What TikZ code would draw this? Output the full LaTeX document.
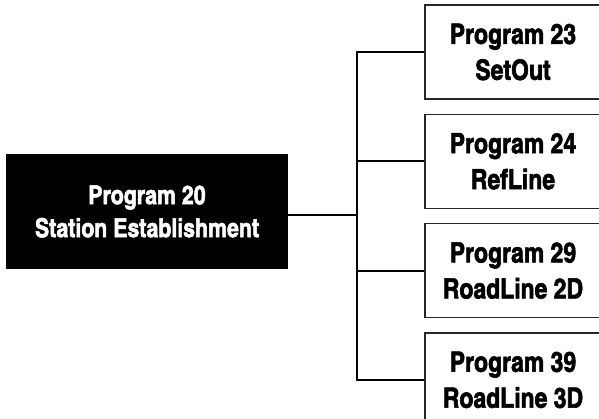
\documentclass[tikz,border=0pt]{standalone}
\usepackage{fontspec}
\setmainfont{texgyreheroscn}[Extension=.otf,UprightFont=*-regular,BoldFont=*-bold,BoldFeatures={FakeBold=2}]
\usetikzlibrary{positioning}

\begin{document}
\begin{tikzpicture}[x=1pt,y=-1pt,font=\bfseries,
  node distance=14pt and 0pt,
  prog/.style={draw=black!85,line width=1.3pt,minimum width=176pt,minimum height=94pt,inner sep=0pt,align=center,
    font=\bfseries\fontsize{28}{36}\selectfont},
  root/.style={fill=black,text=white,minimum width=282pt,minimum height=115pt,inner sep=0pt,align=center,
    font=\bfseries\fontsize{26}{33}\selectfont},
  link/.style={line width=2pt}]
\clip (0,0) rectangle (599,419);
\node[root] (p20) at (147,211.5) {Program 20\\Station Establishment};
\node[prog] (p23) at (513,52) {Program 23\\SetOut};
\node[prog,below=of p23] (p24) {Program 24\\RefLine};
\node[prog,below=of p24] (p29) {Program 29\\RoadLine 2D};
\node[prog,below=of p29] (p39) {Program 39\\RoadLine 3D};
\coordinate (trunk) at (357,0);
\coordinate (out) at ([yshift=-4pt]p20.east);
\draw[link] (p23.west) -- (p23.west -| trunk) -- (p39.west -| trunk) -- (p39.west);
\draw[link] (p24.west) -- (p24.west -| trunk);
\draw[link] (p29.west) -- (p29.west -| trunk);
\draw[link] (out) -- (out -| trunk);
\end{tikzpicture}
\end{document}
